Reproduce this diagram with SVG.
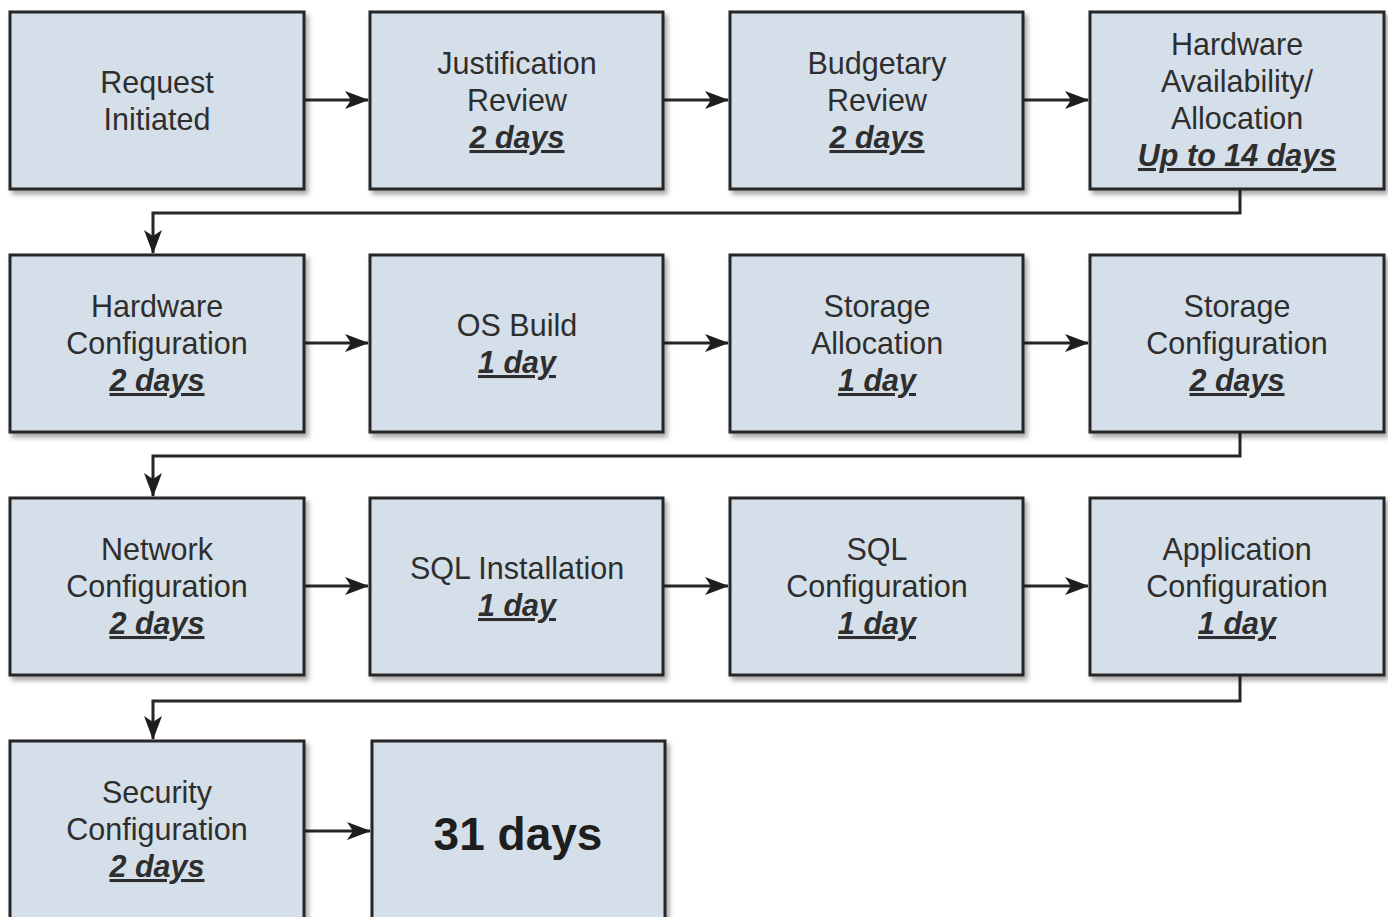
<svg xmlns="http://www.w3.org/2000/svg" width="1388" height="917" viewBox="0 0 1388 917">
  <style>
    .box { fill: #d5dfe9; stroke: #262626; stroke-width: 3; }
    .t { font-family: "Liberation Sans", Arial, sans-serif; font-size: 30.5px; fill: #2e2e2e; text-anchor: middle; }
    .d { font-weight: bold; font-style: italic; text-decoration: underline; }
    .big { font-family: "Liberation Sans", Arial, sans-serif; font-size: 46px; font-weight: bold; fill: #1e1e1e; text-anchor: middle; }
    .c { fill: none; stroke: #262626; stroke-width: 3; }
  </style>
  <defs>
    <filter id="shadow" x="-5%" y="-5%" width="115%" height="115%">
      <feDropShadow dx="3" dy="4" stdDeviation="2.5" flood-color="#000" flood-opacity="0.35"/>
    </filter>
    <marker id="arrow" viewBox="0 0 24 18" refX="23" refY="9" markerWidth="24" markerHeight="18" markerUnits="userSpaceOnUse" orient="auto">
      <path d="M0,0 L24,9 L0,18 L6,9 Z" fill="#1e1e1e"/>
    </marker>
  </defs>
  <rect width="1388" height="917" fill="#ffffff"/>

  <!-- connectors -->
  <g id="connectors">
    <path class="c" d="M304,100 H368" marker-end="url(#arrow)"/>
    <path class="c" d="M663,100 H728" marker-end="url(#arrow)"/>
    <path class="c" d="M1023,100 H1088" marker-end="url(#arrow)"/>
    <path class="c" d="M1240,189 V213 H153 V253" marker-end="url(#arrow)"/>
    <path class="c" d="M304,343 H368" marker-end="url(#arrow)"/>
    <path class="c" d="M663,343 H728" marker-end="url(#arrow)"/>
    <path class="c" d="M1023,343 H1088" marker-end="url(#arrow)"/>
    <path class="c" d="M1240,432 V456 H153 V496" marker-end="url(#arrow)"/>
    <path class="c" d="M304,586 H368" marker-end="url(#arrow)"/>
    <path class="c" d="M663,586 H728" marker-end="url(#arrow)"/>
    <path class="c" d="M1023,586 H1088" marker-end="url(#arrow)"/>
    <path class="c" d="M1240,675 V701 H153 V739" marker-end="url(#arrow)"/>
    <path class="c" d="M304,831 H370" marker-end="url(#arrow)"/>
  </g>

  <!-- row 1 -->
  <g id="request-initiated">
    <rect class="box" x="10" y="12" width="294" height="177" filter="url(#shadow)"/>
    <text class="t" x="157" y="93">Request</text>
    <text class="t" x="157" y="130">Initiated</text>
  </g>
  <g id="justification-review">
    <rect class="box" x="370" y="12" width="293" height="177" filter="url(#shadow)"/>
    <text class="t" x="517" y="74">Justification</text>
    <text class="t" x="517" y="111">Review</text>
    <text class="t d" x="517" y="148">2 days</text>
  </g>
  <g id="budgetary-review">
    <rect class="box" x="730" y="12" width="293" height="177" filter="url(#shadow)"/>
    <text class="t" x="877" y="74">Budgetary</text>
    <text class="t" x="877" y="111">Review</text>
    <text class="t d" x="877" y="148">2 days</text>
  </g>
  <g id="hardware-availability">
    <rect class="box" x="1090" y="12" width="294" height="177" filter="url(#shadow)"/>
    <text class="t" x="1237" y="55">Hardware</text>
    <text class="t" x="1237" y="92">Availability/</text>
    <text class="t" x="1237" y="129">Allocation</text>
    <text class="t d" x="1237" y="166">Up to 14 days</text>
  </g>

  <!-- row 2 -->
  <g id="hardware-configuration">
    <rect class="box" x="10" y="255" width="294" height="177" filter="url(#shadow)"/>
    <text class="t" x="157" y="317">Hardware</text>
    <text class="t" x="157" y="354">Configuration</text>
    <text class="t d" x="157" y="391">2 days</text>
  </g>
  <g id="os-build">
    <rect class="box" x="370" y="255" width="293" height="177" filter="url(#shadow)"/>
    <text class="t" x="517" y="336">OS Build</text>
    <text class="t d" x="517" y="373">1 day</text>
  </g>
  <g id="storage-allocation">
    <rect class="box" x="730" y="255" width="293" height="177" filter="url(#shadow)"/>
    <text class="t" x="877" y="317">Storage</text>
    <text class="t" x="877" y="354">Allocation</text>
    <text class="t d" x="877" y="391">1 day</text>
  </g>
  <g id="storage-configuration">
    <rect class="box" x="1090" y="255" width="294" height="177" filter="url(#shadow)"/>
    <text class="t" x="1237" y="317">Storage</text>
    <text class="t" x="1237" y="354">Configuration</text>
    <text class="t d" x="1237" y="391">2 days</text>
  </g>

  <!-- row 3 -->
  <g id="network-configuration">
    <rect class="box" x="10" y="498" width="294" height="177" filter="url(#shadow)"/>
    <text class="t" x="157" y="560">Network</text>
    <text class="t" x="157" y="597">Configuration</text>
    <text class="t d" x="157" y="634">2 days</text>
  </g>
  <g id="sql-installation">
    <rect class="box" x="370" y="498" width="293" height="177" filter="url(#shadow)"/>
    <text class="t" x="517" y="579">SQL Installation</text>
    <text class="t d" x="517" y="616">1 day</text>
  </g>
  <g id="sql-configuration">
    <rect class="box" x="730" y="498" width="293" height="177" filter="url(#shadow)"/>
    <text class="t" x="877" y="560">SQL</text>
    <text class="t" x="877" y="597">Configuration</text>
    <text class="t d" x="877" y="634">1 day</text>
  </g>
  <g id="application-configuration">
    <rect class="box" x="1090" y="498" width="294" height="177" filter="url(#shadow)"/>
    <text class="t" x="1237" y="560">Application</text>
    <text class="t" x="1237" y="597">Configuration</text>
    <text class="t d" x="1237" y="634">1 day</text>
  </g>

  <!-- row 4 -->
  <g id="security-configuration">
    <rect class="box" x="10" y="741" width="294" height="190" filter="url(#shadow)"/>
    <text class="t" x="157" y="803">Security</text>
    <text class="t" x="157" y="840">Configuration</text>
    <text class="t d" x="157" y="877">2 days</text>
  </g>
  <g id="total">
    <rect class="box" x="372" y="741" width="293" height="190" filter="url(#shadow)"/>
    <text class="big" x="518" y="850">31 days</text>
  </g>
</svg>
